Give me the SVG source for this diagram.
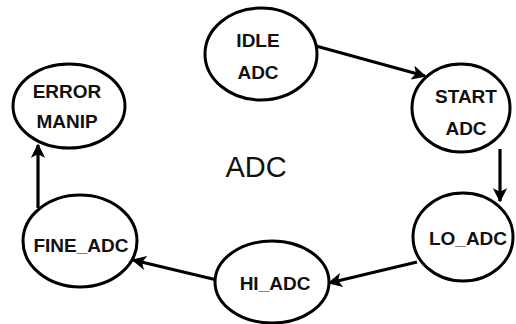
<svg xmlns="http://www.w3.org/2000/svg" width="516" height="324" viewBox="0 0 516 324">
<defs>
<marker id="ah" viewBox="0 0 10 10" refX="9" refY="5" markerWidth="4.5" markerHeight="4.5" orient="auto" markerUnits="strokeWidth">
<path d="M0,0 L10,5 L0,10 L2.5,5 Z" fill="#000"/>
</marker>
<style>
.n{fill:#fff;stroke:#000;stroke-width:3}
.t{font-family:"Liberation Sans",Arial,sans-serif;font-weight:bold;font-size:19px;fill:#111;text-anchor:middle}
.c{stroke:#000;stroke-width:3.2;fill:none;marker-end:url(#ah)}
</style>
</defs>
<rect width="516" height="324" fill="#fff"/>
<g id="connectors">
<line class="c" x1="316" y1="46" x2="425" y2="76"/>
<line class="c" x1="500" y1="149" x2="500" y2="201"/>
<line class="c" x1="417" y1="262" x2="329" y2="283"/>
<line class="c" x1="217" y1="280" x2="133" y2="260"/>
<line class="c" x1="38" y1="208" x2="38" y2="145"/>
</g>
<g id="idle"><ellipse class="n" cx="261" cy="54" rx="56" ry="46"/><text class="t" x="258" y="47">IDLE</text><text class="t" x="258" y="79">ADC</text></g>
<g id="start"><ellipse class="n" cx="461" cy="108" rx="49" ry="44"/><text class="t" x="466" y="103">START</text><text class="t" x="466" y="135">ADC</text></g>
<g id="lo"><ellipse class="n" cx="463" cy="237" rx="50" ry="44"/><text class="t" x="468" y="245">LO_ADC</text></g>
<g id="hi"><ellipse class="n" cx="272" cy="282" rx="57" ry="41"/><text class="t" x="275" y="290">HI_ADC</text></g>
<g id="fine"><ellipse class="n" cx="80" cy="241" rx="57" ry="46"/><text class="t" x="81" y="252">FINE_ADC</text></g>
<g id="error"><ellipse class="n" cx="69" cy="106" rx="56" ry="42"/><text class="t" x="67" y="98">ERROR</text><text class="t" x="67" y="128">MANIP</text></g>
<text x="256" y="177" font-family="Liberation Sans,Arial,sans-serif" font-size="29" fill="#111" text-anchor="middle">ADC</text>
</svg>
